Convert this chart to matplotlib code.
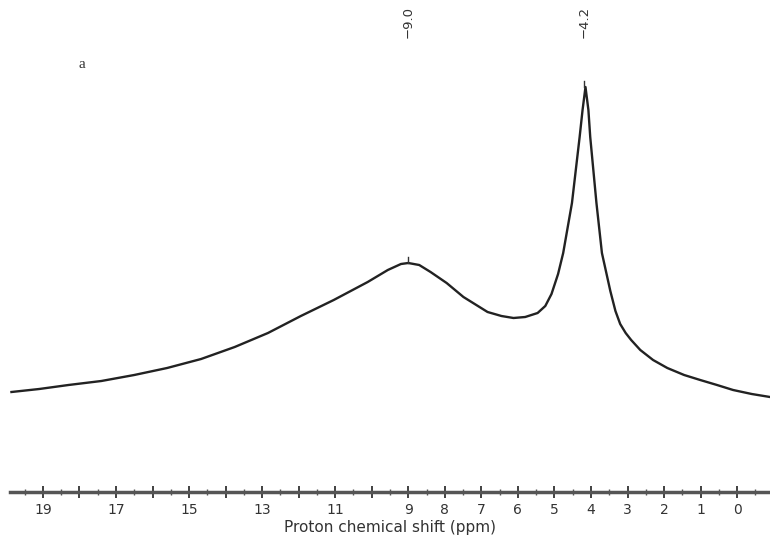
import numpy as np
import matplotlib.pyplot as plt

# spectrum: chemical shift (ppm) and intensity (a.u.)
shift = [19.86, 19.1, 18.3, 17.4, 16.5, 15.6, 14.67, 13.75, 12.84, 11.94,
         11.04, 10.11, 9.56, 9.2, 9.0, 8.7, 8.39, 7.95, 7.49, 6.83, 6.45,
         6.12, 5.8, 5.46, 5.25, 5.08, 4.9, 4.76, 4.52, 4.31, 4.23, 4.15,
         4.07, 4.02, 3.85, 3.70, 3.47, 3.33, 3.2, 3.05, 2.9, 2.65, 2.3,
         1.91, 1.45, 1.01, 0.55, 0.11, -0.4, -0.9]
intensity = [100, 103, 107, 111, 117, 124, 133, 145, 159, 176,
             192, 210, 222, 228, 229, 227, 220, 209, 195, 180, 176,
             174, 175, 179, 186, 198, 218, 239, 289, 355, 382, 405,
             382, 355, 289, 239, 201, 181, 168, 159, 152, 142, 132,
             124, 117, 112, 107, 102, 98, 95]

peaks = [9.0, 4.2]
peak_height = [229, 405]
major_ticks = list(range(0, 20))
labelled = [19, 17, 15, 13, 11, 9, 8, 7, 6, 5, 4, 3, 2, 1, 0]

fig = plt.figure(figsize=(7.7, 5.57), dpi=100)
ax = fig.add_axes([10 / 770, 65 / 557, 760 / 770, 492 / 557])

ax.plot(shift, intensity, color='#222222', lw=1.7, solid_joinstyle='round')
ax.set_xlim(19.9, -0.9)
ax.set_ylim(0, 492)

for s in ['top', 'left', 'right']:
    ax.spines[s].set_visible(False)
ax.spines['bottom'].set_linewidth(2.5)
ax.spines['bottom'].set_color('#555555')
ax.set_yticks([])

ax.set_xticks(major_ticks)
ax.set_xticklabels([str(t) if t in labelled else '' for t in major_ticks],
                   fontsize=10, color='#333333')
ax.set_xticks(np.arange(-0.5, 20, 1.0), minor=True)
ax.tick_params(axis='x', which='major', direction='inout', length=8, width=1.3,
               color='#333333', pad=4)
ax.tick_params(axis='x', which='minor', direction='inout', length=4, width=1.0,
               color='#555555')
ax.set_xlabel('Proton chemical shift (ppm)', fontsize=11, color='#333333', labelpad=2)

# peak labels and small marks on the peak tops
for p, h in zip(peaks, peak_height):
    ax.text(p, 492 - 6, '\u2212' + f'{p:.1f}', rotation=90, ha='center', va='top',
            fontsize=9.5, color='#333333')
    ax.plot([p, p], [h, h + 6], color='#333333', lw=1.0)

ax.text(18.03, 492 - 68, 'a', fontsize=11, family='Liberation Serif',
        color='#333333')

fig.savefig('out.png', dpi=100)
